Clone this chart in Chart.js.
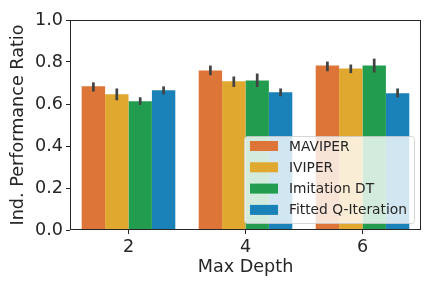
<!DOCTYPE html>
<html>
<head>
<meta charset="utf-8">
<script src="https://cdn.jsdelivr.net/npm/chart.js@4.4.0/dist/chart.umd.min.js"></script>
<style>
  html, body { margin: 0; padding: 0; background: #fff; }
  #chart { display: block; }
</style>
</head>
<body>
<canvas id="chart" width="432" height="288"></canvas>
<script>
// values
const depths = ['2', '4', '6'];
const methods = ['MAVIPER', 'IVIPER', 'Imitation DT', 'Fitted Q-Iteration'];
const colors = ['#dd7539', '#e0a82e', '#229d4f', '#1b81b9'];

const maviper = [0.684, 0.759, 0.783];
const iviper = [0.646, 0.708, 0.769];
const imitationDT = [0.613, 0.712, 0.783];
const fittedQ = [0.665, 0.656, 0.651];

// error bar ranges [low, high]
const maviperErr = [[0.659, 0.703], [0.737, 0.783], [0.756, 0.802]];
const iviperErr = [[0.618, 0.674], [0.681, 0.731], [0.747, 0.788]];
const imitationErr = [[0.596, 0.632], [0.681, 0.745], [0.750, 0.816]];
const fittedQErr = [[0.646, 0.684], [0.637, 0.674], [0.632, 0.674]];

const yTicks = [0, 0.2, 0.4, 0.6, 0.8, 1.0];

const seriesValues = [maviper, iviper, imitationDT, fittedQ];
const seriesErr = [maviperErr, iviperErr, imitationErr, fittedQErr];

const FONT = 'DejaVu Sans';

const errorBars = {
  id: 'errorBars',
  afterDatasetsDraw(chart) {
    const ctx = chart.ctx;
    const y = chart.scales.y;
    ctx.save();
    ctx.strokeStyle = '#424242';
    ctx.lineWidth = 2.7;
    chart.data.datasets.forEach((ds, i) => {
      const meta = chart.getDatasetMeta(i);
      meta.data.forEach((bar, j) => {
        const [lo, hi] = seriesErr[i][j];
        ctx.beginPath();
        ctx.moveTo(bar.x, y.getPixelForValue(lo));
        ctx.lineTo(bar.x, y.getPixelForValue(hi));
        ctx.stroke();
      });
    });
    ctx.restore();
  }
};

const frameAndLegend = {
  id: 'frameAndLegend',
  afterDraw(chart) {
    const ctx = chart.ctx;
    const a = chart.chartArea;
    ctx.save();
    // axes box (matplotlib spines)
    ctx.strokeStyle = '#262626';
    ctx.lineWidth = 1;
    ctx.strokeRect(a.left + 0.5, a.top + 0.5, a.right - a.left - 1, a.bottom - a.top - 1);

    // legend box in lower right
    const w = 170, h = 87;
    const lx = a.right - 7 - w, ly = a.bottom - 7 - h;
    ctx.beginPath();
    ctx.roundRect(lx + 0.5, ly + 0.5, w, h, 3);
    ctx.fillStyle = 'rgba(255,255,255,0.8)';
    ctx.fill();
    ctx.strokeStyle = 'rgba(204,204,204,0.8)';
    ctx.stroke();

    ctx.font = '13.8px "' + FONT + '"';
    ctx.textBaseline = 'middle';
    chart.data.datasets.forEach((ds, i) => {
      const cy = ly + 10 + i * 21.3;
      ctx.fillStyle = ds.backgroundColor;
      ctx.fillRect(lx + 6, cy - 5, 28, 10);
      ctx.fillStyle = '#262626';
      ctx.fillText(ds.label, lx + 45, cy + 1);
    });
    ctx.restore();
  }
};

new Chart(document.getElementById('chart'), {
  type: 'bar',
  data: {
    labels: depths,
    datasets: methods.map((m, i) => ({
      label: m,
      data: seriesValues[i],
      backgroundColor: colors[i],
      borderWidth: 0,
      categoryPercentage: 0.8,
      barPercentage: 1.0
    }))
  },
  options: {
    responsive: false,
    animation: false,
    devicePixelRatio: 1,
    layout: { padding: { left: 8, top: 20, right: 11, bottom: 10 } },
    plugins: {
      legend: { display: false },
      tooltip: { enabled: false }
    },
    scales: {
      x: {
        grid: { display: true, offset: false, drawOnChartArea: false, drawTicks: true, tickLength: 4, color: '#262626' },
        border: { display: false },
        ticks: { color: '#262626', font: { family: FONT, size: 17.6 }, padding: 3 },
        title: { display: true, text: 'Max Depth', color: '#262626', font: { family: FONT, size: 17.6 }, padding: { top: 0, bottom: 0 } },
        afterFit(scale) { scale.height = 48; }
      },
      y: {
        min: 0,
        max: 1,
        afterBuildTicks(scale) { scale.ticks = yTicks.map(v => ({ value: v })); },
        grid: { display: true, drawOnChartArea: false, drawTicks: true, tickLength: 4, color: '#262626' },
        border: { display: false },
        ticks: {
          color: '#262626',
          font: { family: FONT, size: 17.6 },
          padding: 3,
          callback: v => v.toFixed(1)
        },
        title: { display: true, text: 'Ind. Performance Ratio', color: '#262626', font: { family: FONT, size: 17.6 }, padding: { top: 0, bottom: 2 } },
        afterFit(scale) { scale.width = 62; }
      }
    }
  },
  plugins: [errorBars, frameAndLegend]
});
</script>
</body>
</html>
